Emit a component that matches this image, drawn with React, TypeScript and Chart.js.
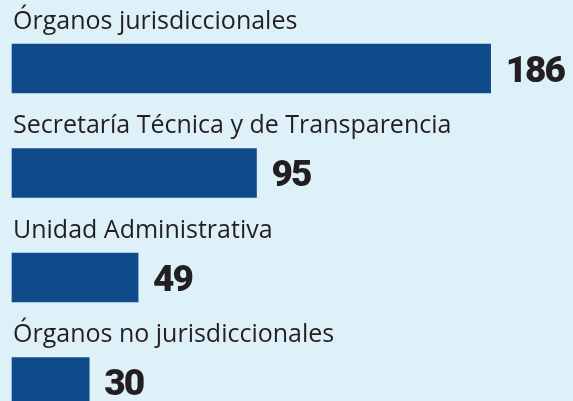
import React, { useEffect, useRef } from "react";
import { Chart, registerables } from "chart.js";

Chart.register(...registerables);

const categories = [
  "Órganos jurisdiccionales",
  "Secretaría Técnica y de Transparencia",
  "Unidad Administrativa",
  "Órganos no jurisdiccionales",
];
const values = [186, 95, 49, 30];

const BG = "#dff1f8";
const BAR = "#0f4b8a";
const TEXT = "#231f20";

const labelPlugin = {
  id: "barLabels",
  afterDatasetsDraw(chart: any) {
    const { ctx } = chart;
    const meta = chart.getDatasetMeta(0);
    ctx.save();
    meta.data.forEach((el: any, i: number) => {
      const cy = el.y;
      ctx.fillStyle = TEXT;
      ctx.textAlign = "left";
      ctx.textBaseline = "alphabetic";
      ctx.font = "500 25px 'Open Sans'";
      (ctx as any).letterSpacing = "0px";
      ctx.fillText(categories[i], 13, cy - 40);
      ctx.font = "900 37px Roboto";
      (ctx as any).letterSpacing = "-2px";
      ctx.fillText(String(values[i]), el.x + 15, cy + 13);
    });
    ctx.restore();
  },
};

export default function App() {
  const ref = useRef<HTMLCanvasElement>(null);
  useEffect(() => {
    if (!ref.current) return;
    const chart = new Chart(ref.current, {
      type: "bar",
      data: {
        labels: categories,
        datasets: [
          {
            data: values,
            backgroundColor: BAR,
            barThickness: 49,
            borderWidth: 0,
            clip: false,
          } as any,
        ],
      },
      options: {
        indexAxis: "y",
        responsive: false,
        animation: false,
        layout: { padding: { top: 68.5, bottom: 19, left: 12, right: 0 } },
        plugins: { legend: { display: false }, tooltip: { enabled: false } },
        scales: {
          x: { display: false, min: 0, max: 218 },
          y: { display: false, offset: false },
        },
      },
      plugins: [labelPlugin],
    });
    return () => chart.destroy();
  }, []);
  return (
    <div
      style={{
        position: "absolute",
        left: 0,
        top: 0,
        width: 573,
        height: 401,
        background: BG,
        overflow: "hidden",
      }}
    >
      <canvas ref={ref} width={573} height={401} />
    </div>
  );
}
